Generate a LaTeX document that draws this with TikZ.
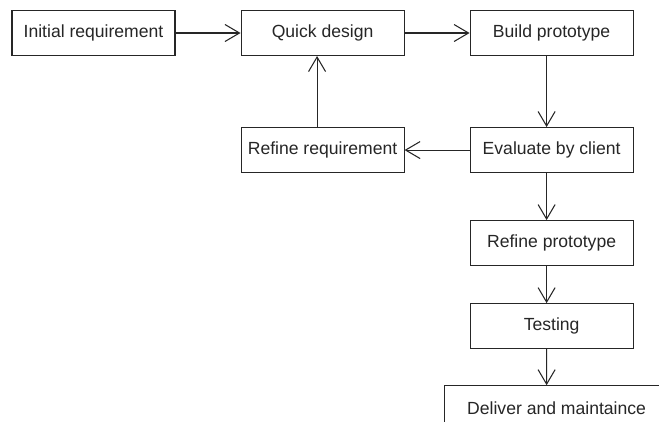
\documentclass[tikz,border=0pt]{standalone}
\usepackage{fontspec}
\setsansfont{Liberation Sans}
\usepackage{tikz}
\usetikzlibrary{arrows.meta,positioning}

\begin{document}
\begin{tikzpicture}[
    node distance=1.42cm and 1.3cm,
    stage/.style={rectangle,draw=black!85,line width=0.6pt,fill=white,minimum width=3.26cm,minimum height=0.9cm,inner sep=1pt,font=\fontsize{10}{12}\selectfont\sffamily,text=black!85,align=center},
    arrow/.style={-{Straight Barb[length=2.9mm,width=3.4mm]},line width=0.6pt,black!85},
]
\clip (0,0) rectangle (13.18,-8.42);
\fill[white] (0,0) rectangle (13.18,-8.42);

\node[stage] (init) at (1.87,-0.66) {Initial requirement};
\node[stage,right=of init]                       (quick)   {Quick design};
\node[stage,right=of quick]                      (build)   {Build prototype};
\node[stage,below=of build]                      (eval)    {Evaluate by client};
\node[stage,left=of eval]                        (refreq)  {Refine requirement};
\node[stage,below=0.94cm of eval]                (refprot) {Refine prototype};
\node[stage,below=0.74cm of refprot]             (test)    {Testing};
\node[stage,below=0.72cm of test,xshift=0.1cm,minimum width=4.48cm] (deliver) {Deliver and maintaince};

\draw[arrow] (init.east) -- (quick.west);
\draw[arrow] (quick.east) -- (build.west);
\draw[arrow] ([xshift=-1mm]build.south) -- ([xshift=-1mm]eval.north);
\draw[arrow] (eval.west) -- (refreq.east);
\draw[arrow] ([xshift=-1.1mm]refreq.north) -- ([xshift=-1.1mm]quick.south);
\draw[arrow] ([xshift=-1mm]eval.south) -- ([xshift=-1mm]refprot.north);
\draw[arrow] ([xshift=-1mm]refprot.south) -- ([xshift=-1mm]test.north);
\draw[arrow] ([xshift=-1mm]test.south) -- ([xshift=-2mm]deliver.north);
\end{tikzpicture}
\end{document}
